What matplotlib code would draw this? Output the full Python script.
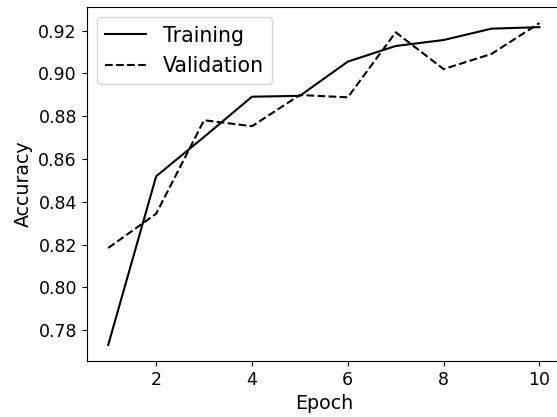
import matplotlib
matplotlib.use("Agg")
import matplotlib.pyplot as plt

epochs = [1, 2, 3, 4, 5, 6, 7, 8, 9, 10]
train_acc = [0.7731, 0.8519, 0.8703, 0.8891, 0.8895, 0.9055, 0.9128, 0.9156, 0.9209, 0.9216]
val_acc = [0.8184, 0.8344, 0.8781, 0.8753, 0.8899, 0.8888, 0.9192, 0.9020, 0.9091, 0.9235]

fig = plt.figure(figsize=(5.57, 4.17), dpi=100)
# axes run slightly past the right edge, as in the reference crop
ax = fig.add_axes([0.1556, 0.1343, 0.8516, 0.8489])

ax.plot(epochs, train_acc, color="black", linestyle="-", linewidth=1.5, label="Training")
ax.plot(epochs, val_acc, color="black", linestyle="--", linewidth=1.5, label="Validation")

ax.set_xticks([2, 4, 6, 8, 10])
ax.set_xlabel("Epoch", fontsize=13.7)
ax.set_ylabel("Accuracy", fontsize=13.7)
ax.tick_params(axis="both", labelsize=12.5)
ax.legend(loc="upper left", fontsize=14.8)

fig.savefig("out.png", dpi=100)
